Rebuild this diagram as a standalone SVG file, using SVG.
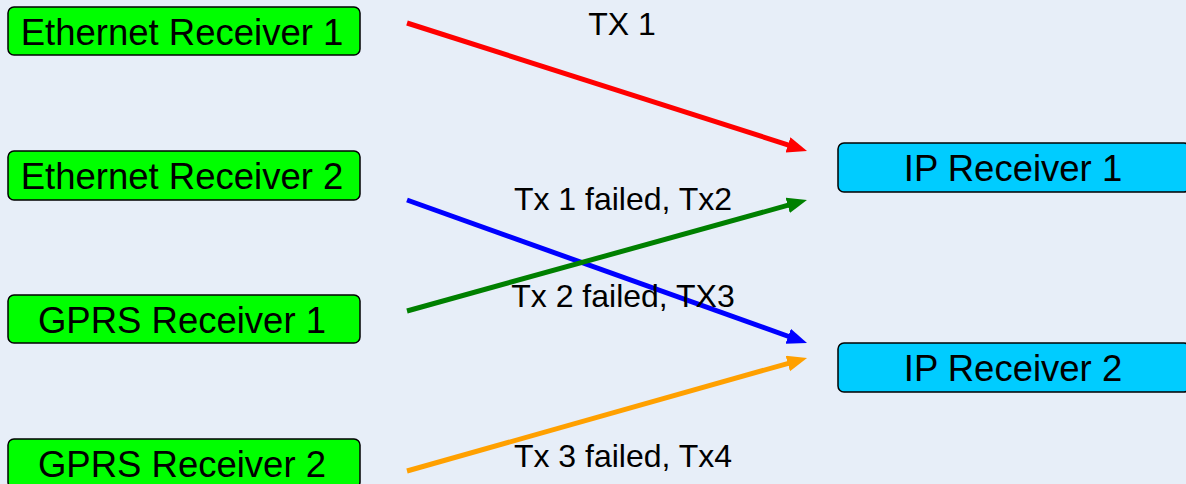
<svg xmlns="http://www.w3.org/2000/svg" width="1186" height="484" viewBox="0 0 1186 484">
<style>
.src{fill:#00FF00;stroke:#000;stroke-width:1.5}
.dst{fill:#00CCFF;stroke:#000;stroke-width:1.5}
.nt{font-family:"Liberation Sans",Arial,sans-serif;font-size:36.5px;fill:#000;text-anchor:middle}
.lt{font-family:"Liberation Sans",Arial,sans-serif;font-size:32px;fill:#000;text-anchor:middle}
.c{fill:none;stroke-width:5}
</style>
<defs>
<marker id="aR" markerUnits="userSpaceOnUse" markerWidth="22" markerHeight="18" refX="8" refY="8" orient="auto"><path d="M0,0 L20,8 L0,16 z" fill="#FF0000"/></marker>
<marker id="aG" markerUnits="userSpaceOnUse" markerWidth="22" markerHeight="18" refX="8" refY="8" orient="auto"><path d="M0,0 L20,8 L0,16 z" fill="#008000"/></marker>
<marker id="aB" markerUnits="userSpaceOnUse" markerWidth="22" markerHeight="18" refX="8" refY="8" orient="auto"><path d="M0,0 L20,8 L0,16 z" fill="#0000FF"/></marker>
<marker id="aO" markerUnits="userSpaceOnUse" markerWidth="22" markerHeight="18" refX="8" refY="8" orient="auto"><path d="M0,0 L20,8 L0,16 z" fill="#FFA000"/></marker>
</defs>
<rect width="1186" height="484" fill="#E7EEF8"/>
<g id="eth1"><rect class="src" x="8" y="7" width="352" height="48" rx="6"/><text class="nt" x="182" y="45">Ethernet Receiver 1</text></g>
<g id="eth2"><rect class="src" x="8" y="151" width="352" height="49" rx="6"/><text class="nt" x="182" y="189">Ethernet Receiver 2</text></g>
<g id="gprs1"><rect class="src" x="8" y="295" width="352" height="48" rx="6"/><text class="nt" x="182" y="333">GPRS Receiver 1</text></g>
<g id="gprs2"><rect class="src" x="8" y="439" width="352" height="49" rx="6"/><text class="nt" x="182" y="477">GPRS Receiver 2</text></g>
<g id="ip1"><rect class="dst" x="838" y="143" width="352" height="49" rx="6"/><text class="nt" x="1013" y="181">IP Receiver 1</text></g>
<g id="ip2"><rect class="dst" x="838" y="343" width="352" height="49" rx="6"/><text class="nt" x="1013" y="381">IP Receiver 2</text></g>
<g id="connectors">
<line class="c" stroke="#FF0000" x1="407" y1="23" x2="795.6" y2="147.3" marker-end="url(#aR)"/>
<line class="c" stroke="#0000FF" x1="407" y1="200" x2="795.7" y2="339" marker-end="url(#aB)"/>
<line class="c" stroke="#008000" x1="407" y1="311" x2="795.4" y2="203.2" marker-end="url(#aG)"/>
<line class="c" stroke="#FFA000" x1="407" y1="471" x2="795.5" y2="361.3" marker-end="url(#aO)"/>
<text class="lt" x="622" y="35">TX 1</text>
<text class="lt" x="623" y="210">Tx 1 failed, Tx2</text>
<text class="lt" x="623" y="307">Tx 2 failed, TX3</text>
<text class="lt" x="623" y="467">Tx 3 failed, Tx4</text>
</g>
</svg>
